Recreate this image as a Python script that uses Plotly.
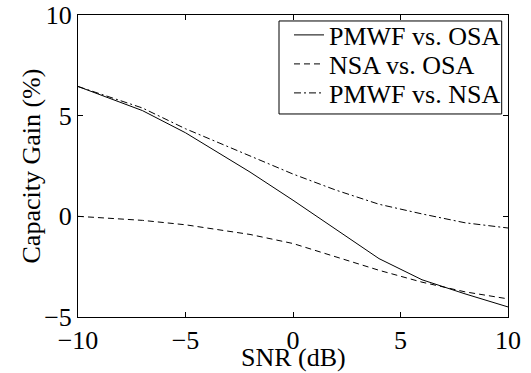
import plotly.graph_objects as go

snr = [-10, -7, -5, -2, 0, 2, 4, 6, 8, 10]
pmwf_vs_osa = [6.45, 5.25, 4.15, 2.2, 0.8, -0.65, -2.1, -3.15, -3.85, -4.5]
nsa_vs_osa = [0.0, -0.2, -0.42, -0.9, -1.35, -2.0, -2.68, -3.27, -3.75, -4.1]
pmwf_vs_nsa = [6.45, 5.38, 4.35, 3.0, 2.1, 1.3, 0.6, 0.12, -0.32, -0.58]

names = ["PMWF vs. OSA", "NSA vs. OSA", "PMWF vs. NSA"]
dashes = ["solid", "6px,4px", "7px,3px,2px,3px"]
series = [pmwf_vs_osa, nsa_vs_osa, pmwf_vs_nsa]
legend_ids = ["legend", "legend2", "legend3"]

FONT = "Liberation Serif"
FS = 26

# plot-area geometry (pixels in the 531x373 page)
W, H = 531, 373
L, R, T, B = 78, 23, 14, 56
PW, PH = W - L - R, H - T - B


def px(xp):
    return (xp - L) / PW


def py(yp):
    return 1 - (yp - T) / PH


fig = go.Figure()
for n, d, y, lg in zip(names, dashes, series, legend_ids):
    fig.add_trace(go.Scatter(x=snr, y=y, mode="lines", name=n, legend=lg,
                             line=dict(color="black", width=1, dash=d),
                             hoverinfo="skip"))

axis_common = dict(
    showline=True, linecolor="black", linewidth=1, mirror="ticks",
    ticks="inside", ticklen=5, tickcolor="black", tickwidth=1,
    showgrid=False, zeroline=False, automargin=False,
    tickfont=dict(family=FONT, size=FS, color="black"),
)

row_centers = [35, 64, 93]
legend_x = px(289)
legends = {}
for lg, yc in zip(legend_ids, row_centers):
    legends[lg] = dict(x=legend_x, y=py(yc), xanchor="left", yanchor="middle",
                       bgcolor="rgba(0,0,0,0)", borderwidth=0,
                       font=dict(family=FONT, size=FS, color="black"),
                       itemwidth=30)

fig.update_layout(
    width=W, height=H,
    margin=dict(l=L, r=R, t=T, b=B),
    paper_bgcolor="white", plot_bgcolor="white",
    font=dict(family=FONT, size=FS, color="black"),
    xaxis=dict(range=[-10, 10], tickvals=[-10, -5, 0, 5, 10], **axis_common),
    yaxis=dict(range=[-5, 10], tickvals=[-5, 0, 5, 10], **axis_common),
    showlegend=True,
    hovermode=False,
    shapes=[dict(type="rect", xref="paper", yref="paper",
                 x0=px(279), x1=px(501.7), y0=py(113.3), y1=py(20),
                 line=dict(color="black", width=1), fillcolor="white", layer="below")],
    annotations=[
        dict(text="SNR (dB)", xref="paper", yref="paper", x=0.5, y=py(358),
             xanchor="center", yanchor="middle", showarrow=False,
             font=dict(family=FONT, size=FS, color="black")),
        dict(text="Capacity Gain (%)", xref="paper", yref="paper", x=px(31), y=py(166),
             xanchor="center", yanchor="middle", showarrow=False, textangle=-90,
             font=dict(family=FONT, size=FS, color="black")),
    ],
    **legends,
)

fig.write_html("out.html", config={"displayModeBar": False},
               post_script="document.body.style.margin='0';document.body.style.overflow='hidden';")
